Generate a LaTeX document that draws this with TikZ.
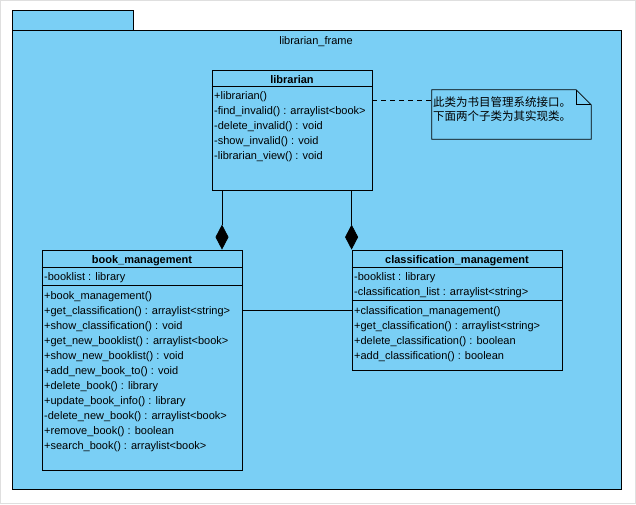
\documentclass[tikz,border=0pt]{standalone}
\usepackage{fontspec}
\setmainfont{Liberation Sans}
\newfontfamily\cjk{Noto Sans CJK SC}
\usetikzlibrary{positioning, arrows.meta}
\definecolor{umlblue}{RGB}{122,207,245}
\tikzset{
  part/.style={draw, fill=umlblue, line width=0.8pt},
  classbox/.style={draw, fill=umlblue, line width=0.8pt, inner sep=0pt},
  title/.style={inner sep=0pt, yshift=-2pt, font=\fontsize{11}{13}\selectfont\bfseries},
  member/.style={anchor=west, inner sep=0pt, yshift=-2pt, font=\fontsize{11}{13}\selectfont},
  comp/.style={-{Diamond[length=25pt,width=13pt]}, line width=0.8pt}
}
\begin{document}
\begin{tikzpicture}[x=1pt, y=-1pt]
	\useasboundingbox (0,0) rectangle (636,504);
	\draw[gray!25] (0.5,0.5) rectangle (635.5,503.5);
	
	% package
	\draw[part] (12,10) rectangle (133,30);
	\draw[part] (12,30) rectangle (621,489);
	\node[member, anchor=center] (frame) at (316,40) {librarian\_frame};
	
	% librarian
	\node[classbox, minimum width=160pt, minimum height=120pt] (lib) at (292,130) {};
	\node[title] (libt) at (292,78) {librarian};
	\draw[line width=0.8pt] (lib.west |- 0,86) -- (lib.east |- 0,86);
	\foreach \txt [count=\i] in {+librarian(), -find\_invalid() : arraylist<book>, -delete\_invalid() : void, -show\_invalid() : void, -librarian\_view() : void}
		\node[member] (lib-\i) at (214,80+15*\i) {\txt};
	
	% note
	\node[inner sep=0pt, minimum width=159pt, minimum height=49pt] (note) at (511.5,114.5) {};
	\draw[part] (note.north west) -- ([xshift=-15pt]note.north east) -- ([yshift=-15pt]note.north east) -- (note.south east) -- (note.south west) -- cycle;
	\draw[line width=0.8pt] ([xshift=-15pt]note.north east) |- ([yshift=-15pt]note.north east);
	\node[member, font=\fontsize{11.5}{13}\cjk] (note-1) at (433,100.5) {此类为书目管理系统接口。};
	\node[member, font=\fontsize{11.5}{13}\cjk] (note-2) at (433,114) {下面两个子类为其实现类。};
	\draw[dashed, dash pattern=on 5pt off 4pt, line width=0.8pt] (lib.east |- 0,100) -- (note.west |- 0,100);
	
	% book_management
	\node[classbox, minimum width=200pt, minimum height=220pt] (bm) at (142,360) {};
	\node[title] (bmt) at (142,259) {book\_management};
	\draw[line width=0.8pt] (bm.west |- 0,267) -- (bm.east |- 0,267);
	\node[member] (bm-a) at (44,276) {-booklist : library};
	\draw[line width=0.8pt] (bm.west |- 0,285) -- (bm.east |- 0,285);
	\foreach \txt [count=\i] in {+book\_management(), +get\_classification() : arraylist<string>, +show\_classification() : void, +get\_new\_booklist() : arraylist<book>, +show\_new\_booklist() : void, +add\_new\_book\_to() : void, +delete\_book() : library, +update\_book\_info() : library, -delete\_new\_book() : arraylist<book>, +remove\_book() : boolean, +search\_book() : arraylist<book>}
		\node[member] (bm-\i) at (44,280+15*\i) {\txt};
	
	% classification_management
	\node[classbox, minimum width=210pt, minimum height=120pt] (cm) at (457,310) {};
	\node[title] (cmt) at (457,259) {classification\_management};
	\draw[line width=0.8pt] (cm.west |- 0,267) -- (cm.east |- 0,267);
	\node[member] (cm-a) at (354,276) {-booklist : library};
	\node[member] (cm-b) at (354,291) {-classification\_list : arraylist<string>};
	\draw[line width=0.8pt] (cm.west |- 0,300) -- (cm.east |- 0,300);
	\foreach \txt [count=\i] in {+classification\_management(), +get\_classification() : arraylist<string>, +delete\_classification() : boolean, +add\_classification() : boolean}
		\node[member] (cm-\i) at (354,295+15*\i) {\txt};
	
	% relations
	\draw[comp] (lib.south -| 222,0) -- (bm.north -| 222,0);
	\draw[comp] (lib.south -| cm.west) -- (cm.north west);
	\draw[line width=0.8pt] (bm.east |- 0,310) -- (cm.west |- 0,310);
\end{tikzpicture}
\end{document}
